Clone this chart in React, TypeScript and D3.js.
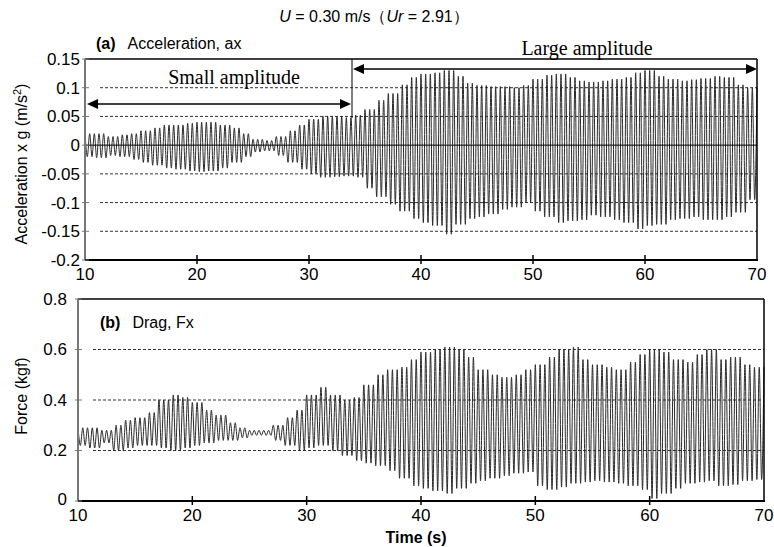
import React from 'react';
import * as d3 from 'd3';

// time axis and tick labels
const timeTicks = [10, 20, 30, 40, 50, 60, 70];
const accelTicks = [0.15, 0.1, 0.05, 0, -0.05, -0.1, -0.15, -0.2];
const accelGrid = [0.1, 0.05, -0.05, -0.1, -0.15];
const forceTicks = [0.8, 0.6, 0.4, 0.2, 0];
const forceGrid = [0.6, 0.4, 0.2];

// oscillation: about 2.4 cycles per second
const cyclesPerSecond = 2.4;

// per-second upper / lower peaks, seconds 10..69
const accelHigh = [
  0.02, 0.02, 0.015, 0.018, 0.02, 0.025, 0.03, 0.035, 0.035, 0.038,
  0.04, 0.04, 0.035, 0.03, 0.02, 0.01, 0.008, 0.015, 0.025, 0.035,
  0.045, 0.05, 0.05, 0.048, 0.052, 0.062, 0.078, 0.09, 0.105, 0.118,
  0.124, 0.126, 0.13, 0.12, 0.108, 0.104, 0.102, 0.102, 0.1, 0.104,
  0.115, 0.122, 0.124, 0.118, 0.112, 0.11, 0.112, 0.115, 0.118, 0.126,
  0.13, 0.12, 0.115, 0.112, 0.114, 0.116, 0.12, 0.118, 0.105, 0.1,
];
const accelLow = [
  -0.02, -0.022, -0.018, -0.02, -0.025, -0.03, -0.035, -0.04, -0.042, -0.045,
  -0.046, -0.045, -0.04, -0.03, -0.02, -0.012, -0.01, -0.018, -0.03, -0.042,
  -0.05, -0.056, -0.055, -0.054, -0.056, -0.075, -0.09, -0.103, -0.115, -0.128,
  -0.135, -0.14, -0.155, -0.138, -0.128, -0.125, -0.12, -0.112, -0.108, -0.1,
  -0.115, -0.125, -0.135, -0.132, -0.13, -0.122, -0.125, -0.13, -0.135, -0.146,
  -0.14, -0.138, -0.13, -0.128, -0.125, -0.13, -0.13, -0.125, -0.117, -0.095,
];
const forceHigh = [
  0.29, 0.29, 0.28, 0.3, 0.32, 0.33, 0.35, 0.4, 0.42, 0.41,
  0.39, 0.36, 0.34, 0.31, 0.29, 0.28, 0.28, 0.3, 0.33, 0.36,
  0.42, 0.45, 0.42, 0.4, 0.41, 0.46, 0.5, 0.52, 0.53, 0.56,
  0.59, 0.6, 0.61, 0.6, 0.57, 0.52, 0.5, 0.49, 0.5, 0.52,
  0.54, 0.57, 0.6, 0.61, 0.56, 0.54, 0.53, 0.52, 0.55, 0.58,
  0.6, 0.59, 0.56, 0.55, 0.58, 0.6, 0.56, 0.57, 0.54, 0.53,
];
const forceLow = [
  0.22, 0.21, 0.23, 0.2, 0.21, 0.22, 0.22, 0.21, 0.2, 0.21,
  0.22, 0.23, 0.24, 0.24, 0.25, 0.26, 0.26, 0.24, 0.22, 0.2,
  0.21, 0.22, 0.2, 0.18, 0.16, 0.15, 0.14, 0.12, 0.09, 0.06,
  0.05, 0.04, 0.03, 0.05, 0.07, 0.08, 0.09, 0.1, 0.11, 0.115,
  0.06, 0.045, 0.055, 0.07, 0.075, 0.08, 0.075, 0.07, 0.06, 0.045,
  0.01, 0.03, 0.05, 0.07, 0.075, 0.08, 0.06, 0.065, 0.08, 0.085,
];

const sans = '"Liberation Sans", Arial, sans-serif';
const serif = '"Liberation Serif", "Times New Roman", serif';

// zigzag between the peaks of each second
const toTrace = (high: number[], low: number[]) => {
  const pts: [number, number][] = [];
  const step = 1 / (2 * cyclesPerSecond);
  for (let k = 0; ; k++) {
    const t = 10 + k * step;
    if (t > 70) break;
    const i = Math.min(high.length - 1, Math.floor(t - 10));
    pts.push([t, k % 2 === 0 ? high[i] : low[i]]);
  }
  return pts;
};

const fmt = (v: number) => (v === 0 ? '0' : String(v));

const Panel = ({ x0, x1, y0, y1, domain, ticks, grid, trace, zeroLine, gridStart, labelGap }: any) => {
  const x = d3.scaleLinear().domain([10, 70]).range([x0, x1]);
  const y = d3.scaleLinear().domain(domain).range([y1, y0]);
  const line = d3.line<[number, number]>()
    .x(d => x(d[0]))
    .y(d => y(d[1]))
    .curve(d3.curveMonotoneX);
  return (
    <g>
      {grid.map((g: number) => (
        <line key={g} x1={gridStart} x2={x1} y1={y(g)} y2={y(g)}
          stroke="#333" strokeWidth={1} strokeDasharray="3,2" />
      ))}
      <path d={line(trace) || ''} fill="none" stroke="#2a2a2a" strokeWidth={1} />
      {zeroLine && <line x1={x0} x2={x1} y1={y(0)} y2={y(0)} stroke="#000" strokeWidth={1} />}
      {/* frame */}
      <line x1={x0} x2={x1} y1={y0} y2={y0} stroke="#000" strokeWidth={1.5} />
      <line x1={x1} x2={x1} y1={y0} y2={y1} stroke="#000" strokeWidth={1.5} />
      <line x1={x0} x2={x0} y1={y0} y2={y1} stroke="#777" strokeWidth={2} />
      <line x1={x0} x2={x1 + 1} y1={y1} y2={y1} stroke="#000" strokeWidth={2} />
      {ticks.map((t: number) => (
        <g key={t}>
          <line x1={x0 - 3} x2={x0 + 4} y1={y(t)} y2={y(t)} stroke="#777" strokeWidth={1} />
          <text x={x0 - labelGap} y={y(t) - (t === 0 && labelGap > 8 ? 2 : 0)} dy="0.35em"
            textAnchor="end" fontFamily={sans} fontSize={17}>
            {fmt(t)}
          </text>
        </g>
      ))}
      {timeTicks.map(t => (
        <g key={t}>
          {t > 10 && t < 70 && (
            <line x1={x(t)} x2={x(t)} y1={y1 - 5} y2={y1 + 4} stroke="#000" strokeWidth={1.5} />
          )}
          <text x={x(t)} y={y1 + 20} textAnchor="middle" fontFamily={sans} fontSize={17}>{t}</text>
        </g>
      ))}
    </g>
  );
};

const Arrow = ({ xa, xb, y }: any) => (
  <g>
    <line x1={xa + 8} x2={xb - 8} y1={y} y2={y} stroke="#000" strokeWidth={1.5} />
    <path d={`M${xa},${y} l11,-5 l0,10 z`} fill="#000" />
    <path d={`M${xb},${y} l-11,-5 l0,10 z`} fill="#000" />
  </g>
);

export default function App() {
  const accelTrace = toTrace(accelHigh, accelLow);
  const forceTrace = toTrace(forceHigh, forceLow);
  return (
    <svg width={774} height={547} style={{ position: 'absolute', left: 0, top: 0, background: '#fff' }}>
      <text x={374} y={22} textAnchor="middle" fontFamily={sans} fontSize={16}>
        <tspan fontStyle="italic">U</tspan> = 0.30 m/s（<tspan fontStyle="italic">Ur</tspan> = 2.91）
      </text>

      <Panel x0={85} x1={757} y0={59} y1={260} domain={[-0.2, 0.15]} labelGap={5}
        ticks={accelTicks} grid={accelGrid} trace={accelTrace} zeroLine gridStart={100} />
      <text x={96} y={49} fontFamily={sans} fontSize={16}>
        <tspan fontWeight="bold">(a)</tspan>
        <tspan dx={12}>Acceleration, ax</tspan>
      </text>

      {/* amplitude annotations */}
      <line x1={352} x2={352} y1={59} y2={118} stroke="#000" strokeWidth={1} />
      <Arrow xa={87} xb={351} y={104} />
      <Arrow xa={353} xb={757} y={69} />
      <text x={234} y={84} textAnchor="middle" fontFamily={serif} fontSize={20}>Small amplitude</text>
      <text x={587} y={55} textAnchor="middle" fontFamily={serif} fontSize={20}>Large amplitude</text>

      <Panel x0={78} x1={764} y0={299} y1={501} domain={[0, 0.8]} labelGap={11}
        ticks={forceTicks} grid={forceGrid} trace={forceTrace} gridStart={93} />
      <text x={100} y={328} fontFamily={sans} fontSize={16}>
        <tspan fontWeight="bold">(b)</tspan>
        <tspan dx={12}>Drag, Fx</tspan>
      </text>

      <text transform="translate(27,164) rotate(-90)" textAnchor="middle" fontFamily={sans} fontSize={16}>
        Acceleration x g (m/s<tspan dy={-6} fontSize={11}>2</tspan><tspan dy={6}>)</tspan>
      </text>
      <text transform="translate(27,396) rotate(-90)" textAnchor="middle" fontFamily={sans} fontSize={16}>
        Force (kgf)
      </text>
      <text x={416} y={543} textAnchor="middle" fontFamily={sans} fontSize={16} fontWeight="bold">Time (s)</text>
    </svg>
  );
}
